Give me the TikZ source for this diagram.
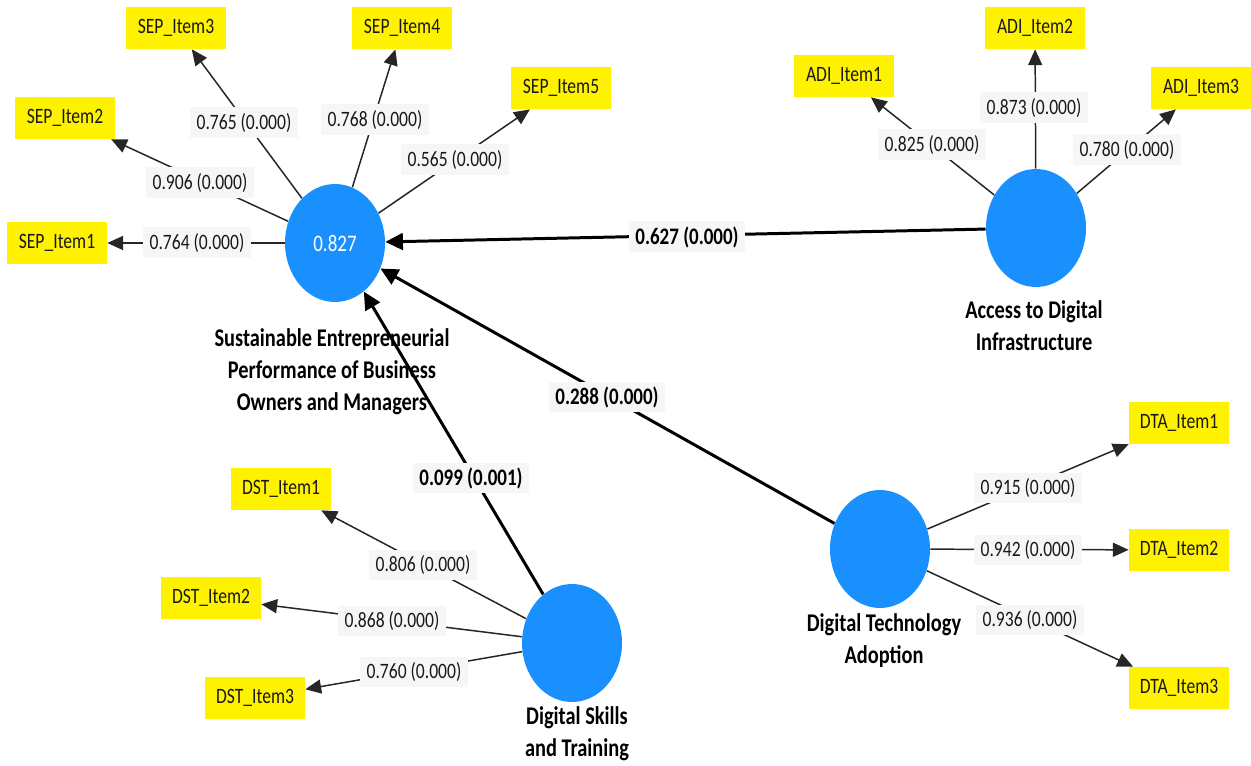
\documentclass[tikz,border=0pt]{standalone}
\usepackage{fontspec}
\setmainfont[FakeStretch=0.8]{Carlito}
\usetikzlibrary{arrows.meta,shapes.geometric}
\definecolor{lvblue}{HTML}{1A90FF}
\definecolor{lblbg}{HTML}{F6F6F6}
\begin{document}
\begin{tikzpicture}[x=0.02cm,y=-0.02cm,
  latent/.style={ellipse, fill=lvblue, minimum width=2cm, minimum height=2.36cm, inner sep=0pt, text=white, font=\fontsize{13.5}{15}\selectfont},
  item/.style={fill=yellow, minimum width=2cm, minimum height=0.84cm, inner sep=0pt, text=black!90, font=\fontsize{12.5}{15}\selectfont},
  loadlbl/.style={fill=lblbg, inner xsep=3.5pt, inner ysep=0pt, minimum height=0.62cm, text=black!90, font=\fontsize{12.5}{15}\selectfont},
  pathlbl/.style={fill=lblbg, inner xsep=3.5pt, inner ysep=0pt, minimum height=0.62cm, font=\bfseries\fontsize{13.5}{16}\selectfont},
  title/.style={align=center, font=\bfseries\fontsize{14.5}{18.2}\selectfont},
  larr/.style={draw=black!85, line width=0.85pt, -{Triangle[length=9pt,width=8pt]}},
  sarr/.style={draw=black, line width=1.7pt, -{Triangle[length=10pt,width=9.5pt]}}
]
\useasboundingbox (0,0) rectangle (1251,766);

% titles
\node[title] (tsep) at (332,372) {Sustainable Entrepreneurial\\Performance of Business\\Owners and Managers};
\node[title] (tadi) at (1034,326) {Access to Digital\\Infrastructure};
\node[title] (tdta) at (884,641) {Digital Technology\\Adoption};
\node[title] (tdst) at (577,734) {Digital Skills\\and Training};

% latent variables
\node[latent] (sep) at (335,243) {0.827};
\node[latent] (adi) at (1036,228) {};
\node[latent] (dta) at (880,549) {};
\node[latent] (dst) at (572,643) {};

% indicators
\node[item] (sep1) at (57,243) {SEP\_Item1};
\node[item] (sep2) at (65,118) {SEP\_Item2};
\node[item] (sep3) at (176,28) {SEP\_Item3};
\node[item] (sep4) at (402,28) {SEP\_Item4};
\node[item] (sep5) at (561,88) {SEP\_Item5};
\node[item] (adi1) at (844,76) {ADI\_Item1};
\node[item] (adi2) at (1035,28) {ADI\_Item2};
\node[item] (adi3) at (1201,88) {ADI\_Item3};
\node[item] (dst1) at (281,489) {DST\_Item1};
\node[item] (dst2) at (211,598) {DST\_Item2};
\node[item] (dst3) at (255,698) {DST\_Item3};
\node[item] (dta1) at (1179,423) {DTA\_Item1};
\node[item] (dta2) at (1179,550) {DTA\_Item2};
\node[item] (dta3) at (1179,688) {DTA\_Item3};

% outer loadings
\foreach \a/\b in {sep/sep1,sep/sep2,sep/sep3,sep/sep4,sep/sep5,adi/adi1,adi/adi2,adi/adi3,dst/dst1,dst/dst2,dst/dst3,dta/dta1,dta/dta2,dta/dta3}
  \draw[larr] (\a) -- (\b);

% structural paths
\draw[sarr] (adi) -- (sep);
\draw[sarr] (dta) -- (sep);
\draw[sarr] (dst) -- (sep);

% loading labels
\node[loadlbl] (l1) at (197,243) {0.764 (0.000)};
\node[loadlbl] (l2) at (200,183) {0.906 (0.000)};
\node[loadlbl] (l3) at (244,123) {0.765 (0.000)};
\node[loadlbl] (l4) at (375,120) {0.768 (0.000)};
\node[loadlbl] (l5) at (455,160) {0.565 (0.000)};
\node[loadlbl] (l6) at (932,145) {0.825 (0.000)};
\node[loadlbl] (l7) at (1034,108) {0.873 (0.000)};
\node[loadlbl] (l8) at (1127,150) {0.780 (0.000)};
\node[loadlbl] (l9) at (423,565) {0.806 (0.000)};
\node[loadlbl] (l10) at (392,621) {0.868 (0.000)};
\node[loadlbl] (l11) at (414,672) {0.760 (0.000)};
\node[loadlbl] (l12) at (1028,488) {0.915 (0.000)};
\node[loadlbl] (l13) at (1028,550) {0.942 (0.000)};
\node[loadlbl] (l14) at (1030,620) {0.936 (0.000)};

% path coefficients
\node[pathlbl] (p1) at (687,237) {0.627 (0.000)};
\node[pathlbl] (p2) at (607,397) {0.288 (0.000)};
\node[pathlbl] (p3) at (471,478) {0.099 (0.001)};
\end{tikzpicture}
\end{document}
